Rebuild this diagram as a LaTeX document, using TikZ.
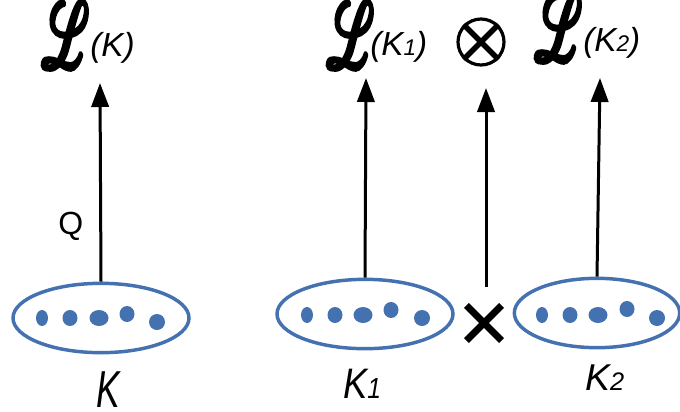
\documentclass[tikz,border=0pt]{standalone}
\usepackage{fontspec}
\setmainfont{Liberation Sans}
\usepackage{mathrsfs}
\usepackage{graphicx}
\usetikzlibrary{arrows.meta,shapes.geometric}
\definecolor{ellblue}{RGB}{68,114,176}
\newcommand\thickL{\special{pdf:literal direct 2 Tr 0.55 w}$\mathscr{L}$\special{pdf:literal direct 0 Tr}}
\newcommand\smallsub[1]{\scalebox{0.68}{#1}}
\tikzset{
  arr/.style={line width=2.25pt,-{Triangle[width=13pt,length=18pt]}},
  bell/.style={ellipse,draw=ellblue,line width=2.6pt,minimum width=132pt,minimum height=52pt,inner sep=0pt},
  dotf/.style={fill=ellblue},
  scrl/.style={inner sep=0pt,xscale=3.9,yscale=7,xslant=-0.25,transform shape},
  toplab/.style={inner sep=0pt,anchor=base west,font=\fontsize{25pt}{30pt}\selectfont\itshape},
  botlab/.style={inner sep=0pt,anchor=base west,transform shape},
}
\begin{document}
\begin{tikzpicture}[x=0.75pt,y=-0.75pt]
\useasboundingbox (0,0) rectangle (680,411);
% ellipses
\node[bell] (e0) at (101,318) {};
\node[bell] (e1) at (365,314) {};
\node[bell,minimum width=124pt] (e2) at (597,313) {};
% dots
\foreach \cx/\cy/\rx/\ry in {42/318/6/8,70/318/7.5/8,99/318/9.5/8,127/314/7.5/8,157/322/8/8,
  307/315/6/8,335/315/7.5/8,363/315/9.5/8,391/310/7.5/8,422/318/8/8,
  542/315/6/8,570/315/7.5/8,598/315/9.5/8,627/309/7.5/8,657/318/8/8}
  \fill[dotf] (\cx,\cy) ellipse [x radius=\rx, y radius=\ry];
% bottom labels
\node[botlab,xscale=0.68,font=\fontsize{39pt}{44pt}\selectfont\itshape] (k0) at (96,407) {K};
\node[botlab,xscale=0.85,font=\fontsize{32pt}{38pt}\selectfont\itshape] (k1) at (343,398) {K\smallsub{1}};
\node[botlab,font=\fontsize{28pt}{34pt}\selectfont\itshape] (k2) at (585,390) {K\smallsub{2}};
% top labels
\node[scrl] (L0) at (65,35) {\thickL};
\node[toplab] (t0) at (90,56) {(K)};
\node[scrl] (L1) at (350,35) {\thickL};
\node[toplab] (t1) at (370,55) {(K\smallsub{1})};
\node[scrl] (L2) at (558,28) {\thickL};
\node[toplab] (t2) at (583,51) {(K\smallsub{2})};
% otimes
\node[circle,draw,line width=2.4pt,minimum size=34.5pt,inner sep=0pt] (ot) at (481,42) {};
\draw[line width=4pt] (ot.north west) -- (ot.south east);
\draw[line width=4pt] (ot.north east) -- (ot.south west);
% big cross
\node[minimum size=26pt,inner sep=0pt] (xm) at (484,323) {};
\draw[line width=5.2pt] (xm.north west) -- (xm.south east);
\draw[line width=5.2pt] (xm.north east) -- (xm.south west);
% Q
\node[inner sep=0pt,anchor=base west,font=\fontsize{24pt}{28pt}\selectfont] (q) at (58,234) {Q};
% arrow ends
\coordinate (a0) at (100,83);
\coordinate (a1) at (366,78);
\coordinate (a2) at (486,88);
\coordinate (a3) at (600,78);
\coordinate (b2) at (486,287);
\draw[arr] (e0.north) -- (a0);
\draw[arr] (e1.north) -- (a1);
\draw[arr] (b2) -- (a2);
\draw[arr] (e2.north) -- (a3);
\end{tikzpicture}
\end{document}
